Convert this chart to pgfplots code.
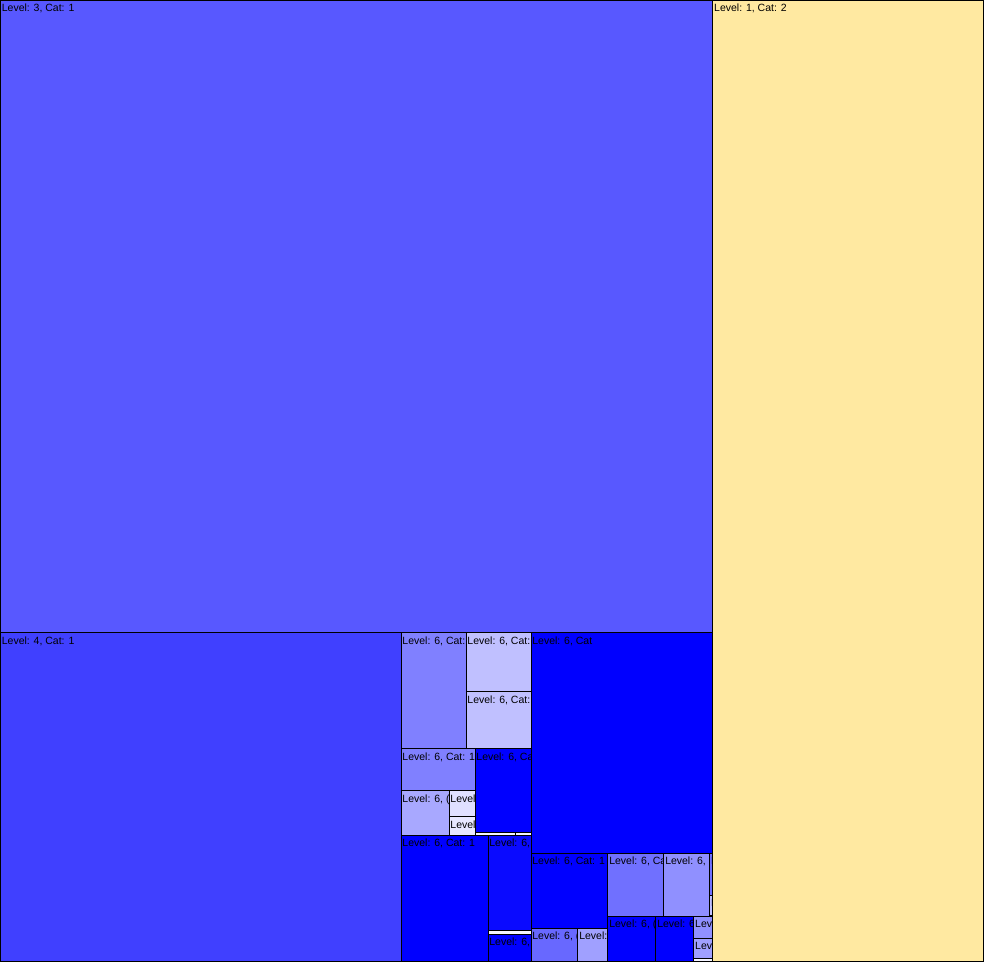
\documentclass[border=0pt]{standalone}
\usepackage{fontspec}
\setmainfont{Liberation Sans}
\usepackage{pgfplots}
\pgfplotsset{compat=1.18}
\definecolor{cYel}{HTML}{FFE9A1}
\definecolor{cL3}{HTML}{5858FF}
\definecolor{cL4}{HTML}{4040FF}
\definecolor{cB}{HTML}{0000FF}
\definecolor{cB2}{HTML}{0A0AFF}
\definecolor{c80}{HTML}{8080FF}
\definecolor{cC0}{HTML}{C0C0FF}
\definecolor{cA8}{HTML}{A8A8FF}
\definecolor{cE0}{HTML}{E0E0FF}
\definecolor{cE8}{HTML}{E8E8FF}
\definecolor{cF4}{HTML}{F4F4FF}
\definecolor{c68}{HTML}{6868FF}
\definecolor{cA0}{HTML}{A0A0FF}
\definecolor{c70}{HTML}{7070FF}
\definecolor{c90}{HTML}{9090FF}
\newcommand\lab{\fontsize{10.5}{12}\selectfont}
\newcommand{\cell}[6]{%
  \addplot[fill=#5, draw=black, line width=0.9pt] coordinates {(#1,#2) (#3,#2) (#3,#4) (#1,#4)} -- cycle;
  \pgfplotsextra{\begin{scope}\clip (axis cs:#1,#2) rectangle (axis cs:#3,#4);
    \node[anchor=north west, inner sep=0pt, font=\lab, text=black] at (axis cs:#1+1.2,#2+3.5) {#6};\end{scope}}%
}
\begin{document}
\begin{tikzpicture}
\begin{axis}[
  width=984pt, height=962pt, scale only axis,
  xmin=0, xmax=984, ymin=0, ymax=962, y dir=reverse,
  hide axis, clip=false]
\cell{713}{0}{984}{962}{cYel}{Level: 1, Cat: 2}
\cell{0}{0}{713}{633}{cL3}{Level: 3, Cat: 1}
\cell{0}{633}{401}{962}{cL4}{Level: 4, Cat: 1}
\cell{401}{633}{466}{749}{c80}{Level: 6, Cat:}
\cell{466}{633}{531}{692}{cC0}{Level: 6, Cat:}
\cell{466}{692}{531}{749}{cC0}{Level: 6, Cat:}
\cell{531}{633}{713}{854}{cB}{Level: 6, Cat}
\cell{401}{749}{475}{791}{c80}{Level: 6, Cat: 1}
\cell{475}{749}{531}{833}{cB}{Level: 6, Ca}
\cell{475}{833}{515}{836}{cF4}{}
\cell{515}{833}{531}{836}{cF4}{}
\cell{401}{791}{449}{836}{cA8}{Level: 6, (}
\cell{449}{791}{475}{817}{cE0}{Level}
\cell{449}{817}{475}{836}{cE8}{Level}
\cell{401}{836}{488}{962}{cB}{Level: 6, Cat: 1}
\cell{488}{836}{531}{931}{cB2}{Level: 6,}
\cell{488}{931}{531}{935}{cF4}{}
\cell{488}{935}{531}{962}{cB}{Level: 6,}
\cell{531}{854}{608}{929}{cB}{Level: 6, Cat: 1}
\cell{531}{929}{578}{962}{c68}{Level: 6, (}
\cell{578}{929}{608}{962}{cA0}{Level:}
\cell{608}{854}{664}{917}{c70}{Level: 6, Ca}
\cell{664}{854}{710}{917}{c90}{Level: 6,}
\cell{710}{854}{713}{896}{c70}{L}
\cell{710}{896}{713}{916}{cC0}{L}
\cell{608}{917}{656}{962}{cB}{Level: 6, (}
\cell{656}{917}{694}{962}{cB}{Level: 6}
\cell{694}{917}{713}{939}{c90}{Lev}
\cell{694}{939}{713}{959}{cA0}{Lev}
\cell{694}{959}{713}{962}{cF4}{}
\end{axis}
\end{tikzpicture}
\end{document}
